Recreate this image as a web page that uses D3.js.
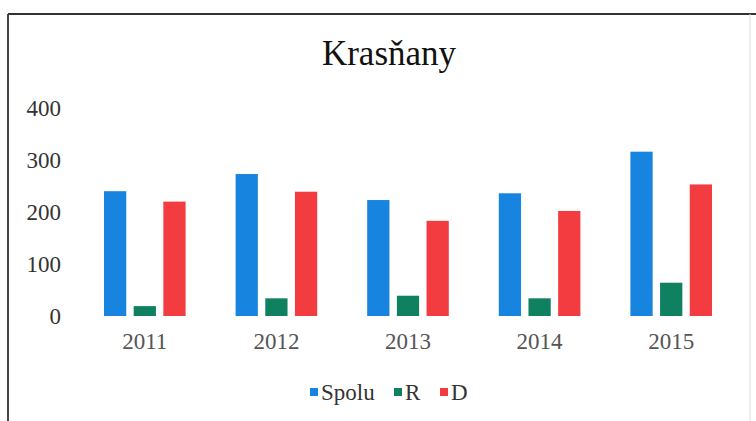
<!DOCTYPE html>
<html>
<head>
<meta charset="utf-8">
<script src="https://cdn.jsdelivr.net/npm/d3@7"></script>
<style>
  body { margin: 0; background: #fff; }
  svg { display: block; font-family: "Liberation Serif", "DejaVu Serif", serif; }
</style>
</head>
<body>
<svg id="chart" width="756" height="421"></svg>
<script>
// data
var years = ["2011", "2012", "2013", "2014", "2015"];
var seriesNames = ["Spolu", "R", "D"];
var spolu = [240, 273, 223, 236, 316];
var rValues = [19, 34, 39, 34, 64];
var dValues = [220, 239, 183, 202, 253];
var yTicks = [0, 100, 200, 300, 400];
var colors = ["#1784e0", "#0f8060", "#f23c3f"];

var svg = d3.select("#chart");

var rows = years.map(function (y, i) {
    return { year: y, values: [spolu[i], rValues[i], dValues[i]] };
});

// frame
svg.append("line").attr("x1", 8).attr("x2", 756).attr("y1", 14).attr("y2", 14)
    .attr("stroke", "#333").attr("stroke-width", 2);
svg.append("line").attr("x1", 8).attr("x2", 8).attr("y1", 14).attr("y2", 421)
    .attr("stroke", "#444").attr("stroke-width", 2);
svg.append("line").attr("x1", 750).attr("x2", 750).attr("y1", 14).attr("y2", 421)
    .attr("stroke", "#ddd").attr("stroke-width", 1);

svg.append("text")
    .attr("x", 389)
    .attr("y", 65)
    .attr("text-anchor", "middle")
    .style("font-size", "35px")
    .style("fill", "#111")
    .text("Krasňany");

var x = d3.scaleBand()
    .domain(years)
    .range([79, 737])
    .paddingInner(0.38)
    .paddingOuter(0.19);

var x1 = d3.scaleBand()
    .domain(seriesNames)
    .range([0, x.bandwidth()])
    .paddingInner(0.25);

var y = d3.scaleLinear()
    .domain([0, 400])
    .range([316, 108]);

var yAxis = svg.append("g")
    .attr("transform", "translate(61,0)")
    .call(d3.axisLeft(y).tickValues(yTicks).tickSize(0).tickPadding(0));
yAxis.select(".domain").remove();
yAxis.selectAll("text")
    .style("font-family", "Liberation Serif, serif")
    .style("font-size", "23px")
    .style("fill", "#333");

var xAxis = svg.append("g")
    .attr("transform", "translate(0,333)")
    .call(d3.axisBottom(x).tickSize(0).tickPadding(0));
xAxis.select(".domain").remove();
xAxis.selectAll("text")
    .style("font-family", "Liberation Serif, serif")
    .style("font-size", "23px")
    .style("fill", "#555");

var groups = svg.selectAll(".grp")
    .data(rows)
    .enter().append("g")
    .attr("class", "grp")
    .attr("transform", d => "translate(" + x(d.year) + ",0)");

groups.selectAll("rect")
    .data(d => d.values.map((v, i) => ({ name: seriesNames[i], value: v, i: i })))
    .enter().append("rect")
    .attr("x", d => x1(d.name))
    .attr("width", x1.bandwidth())
    .attr("y", d => y(d.value))
    .attr("height", d => y(0) - y(d.value))
    .attr("fill", d => colors[d.i]);

// legend
var legendX = [310, 394, 440];
var legend = svg.append("g");
seriesNames.forEach(function (name, i) {
    legend.append("rect")
        .attr("x", legendX[i])
        .attr("y", 388)
        .attr("width", 8)
        .attr("height", 8)
        .attr("fill", colors[i]);
    legend.append("text")
        .attr("x", legendX[i] + 11)
        .attr("y", 400)
        .style("font-size", "23px")
        .style("fill", "#333")
        .text(name);
});
</script>
</body>
</html>
